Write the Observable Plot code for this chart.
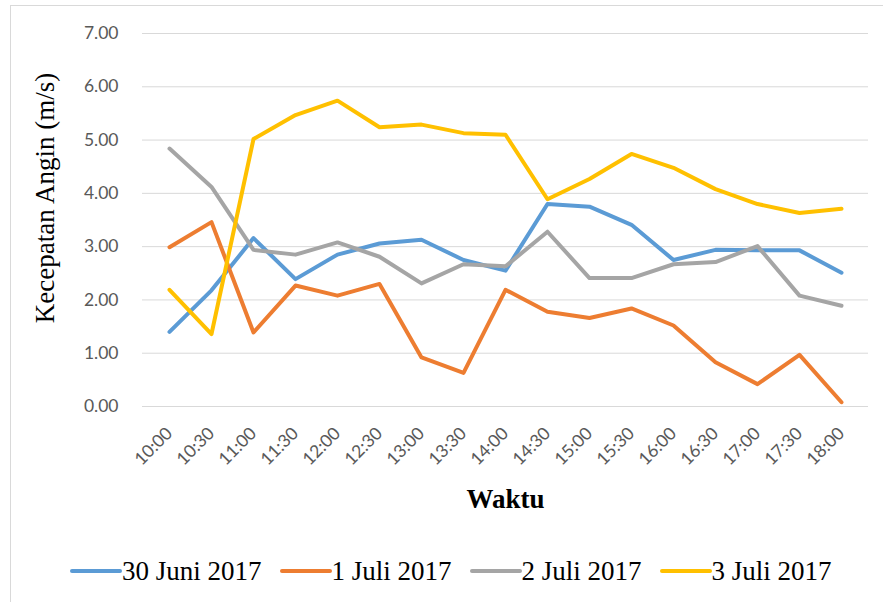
<!DOCTYPE html>
<html>
<head>
<meta charset="utf-8">
<script src="https://cdn.jsdelivr.net/npm/d3@7"></script>
<script src="https://cdn.jsdelivr.net/npm/@observablehq/plot@0.6"></script>
<style>
  body { margin: 0; background: #fff; }
  #wrap { position: relative; width: 883px; height: 602px; overflow: hidden; background: #fff; }
  #frame { position: absolute; left: 10px; top: 5px; width: 900px; height: 620px; border: 1px solid #d9d9d9; box-sizing: border-box; pointer-events: none; }
  #chart svg { display: block; }
  #legend { position: absolute; left: 0; top: 540px; height: 62px; width: 883px; display: flex; align-items: center; padding-left: 70px; box-sizing: border-box; font-family: "Liberation Serif", "Times New Roman", serif; font-size: 27px; color: #000; }
  .item { display: flex; align-items: center; margin-right: 18px; }
  .sw { width: 52px; height: 4px; border-radius: 2px; margin-right: 0px; }
</style>
</head>
<body>
<div id="wrap">
  <div id="chart"></div>
  <div id="legend"></div>
  <div id="frame"></div>
</div>
<script>
const times = ["10:00","10:30","11:00","11:30","12:00","12:30","13:00","13:30","14:00","14:30","15:00","15:30","16:00","16:30","17:00","17:30","18:00"];
const seriesNames = ["30 Juni 2017","1 Juli 2017","2 Juli 2017","3 Juli 2017"];
const seriesColors = ["#5B9BD5","#ED7D31","#A5A5A5","#FFC000"];
const juni30 = [1.40,2.18,3.16,2.39,2.85,3.06,3.13,2.75,2.55,3.80,3.75,3.41,2.75,2.94,2.93,2.93,2.51];
const juli1  = [2.99,3.46,1.39,2.27,2.08,2.30,0.92,0.63,2.19,1.78,1.66,1.84,1.52,0.83,0.42,0.97,0.08];
const juli2  = [4.84,4.12,2.94,2.85,3.08,2.81,2.31,2.67,2.63,3.28,2.41,2.41,2.67,2.71,3.01,2.08,1.89];
const juli3  = [2.19,1.36,5.02,5.47,5.74,5.24,5.29,5.13,5.10,3.89,4.27,4.74,4.48,4.08,3.80,3.63,3.71];
const yTicks = [0,1,2,3,4,5,6,7];
const yLabel = "Kecepatan Angin (m/s)";
const xLabel = "Waktu";

const allSeries = [juni30, juli1, juli2, juli3];
const data = [];
allSeries.forEach((vals, si) => {
  vals.forEach((v, i) => data.push({time: times[i], value: v, series: seriesNames[si]}));
});

const tickFont = "Lato, 'Open Sans', sans-serif";
const serif = "'Liberation Serif', 'Times New Roman', serif";

const chart = Plot.plot({
  width: 883,
  height: 540,
  marginLeft: 142,
  marginRight: 15,
  marginTop: 33,
  marginBottom: 134,
  style: { background: "transparent", overflow: "visible" },
  x: { type: "point", domain: times, padding: 0.5 },
  y: { domain: [0, 7] },
  color: { domain: seriesNames, range: seriesColors },
  marks: [
    Plot.gridY(yTicks, { stroke: "#d9d9d9", strokeOpacity: 1, strokeWidth: 1 }),
    Plot.axisY(yTicks, { tickSize: 0, tickPadding: 24, tickFormat: d3.format(".2f"), fontSize: 17.5, fill: "#595959", fontFamily: tickFont, label: null }),
    Plot.axisX(times, { tickSize: 0, tickRotate: -45, tickPadding: 24, fontSize: 17.5, fill: "#595959", fontFamily: tickFont, label: null }),
    Plot.line(data, { x: "time", y: "value", z: "series", stroke: "series", strokeWidth: 4, strokeLinecap: "round", strokeLinejoin: "round" }),
    Plot.text([yLabel], { text: d => d, frameAnchor: "left", textAnchor: "middle", rotate: -90, dx: -97, dy: -22, fontSize: 27, fontFamily: serif, fill: "#000" }),
    Plot.text([xLabel], { text: d => d, frameAnchor: "bottom", dy: 101, fontSize: 27, fontWeight: "bold", fontFamily: serif, fill: "#000" })
  ]
});
document.getElementById("chart").appendChild(chart);

const legend = document.getElementById("legend");
seriesNames.forEach((name, i) => {
  const item = document.createElement("div");
  item.className = "item";
  const sw = document.createElement("div");
  sw.className = "sw";
  sw.style.background = seriesColors[i];
  const t = document.createElement("span");
  t.textContent = name;
  item.appendChild(sw);
  item.appendChild(t);
  legend.appendChild(item);
});
</script>
</body>
</html>
